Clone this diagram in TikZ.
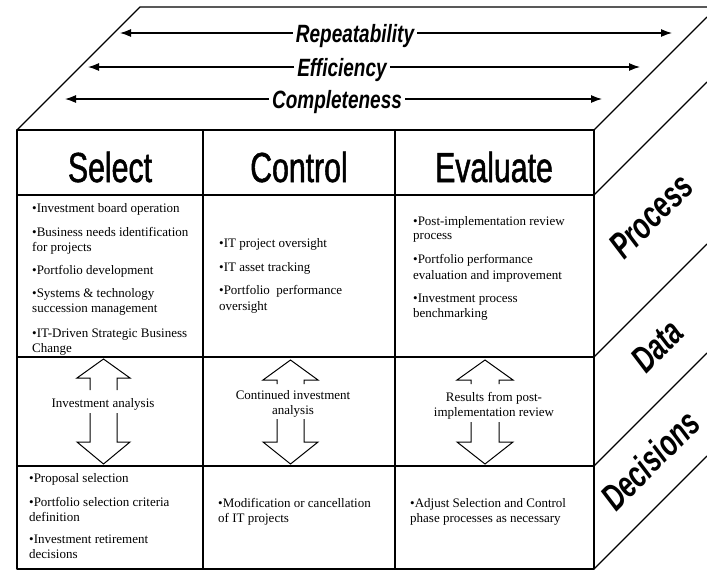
\documentclass[tikz,border=0pt]{standalone}
\usepackage{fontspec}
\setmainfont{Liberation Serif}
\newfontfamily\headfont[FakeStretch=0.72, FakeBold=1.2]{Liberation Sans}
\newfontfamily\topfont[FakeStretch=0.76]{Liberation Sans Bold Italic}
\newfontfamily\sidefont[FakeStretch=0.70]{Liberation Sans Bold Italic}
\usetikzlibrary{arrows.meta}
\begin{document}
\begin{tikzpicture}[x=1pt,y=-1pt,
  edge/.style={line width=1.3pt, line cap=round, line join=round},
  body/.style={inner sep=0pt, anchor=base west, font=\fontsize{13}{15}\selectfont},
  bodyc/.style={inner sep=0pt, anchor=base, font=\fontsize{13}{15}\selectfont},
  head/.style={inner sep=0pt, anchor=base, font=\headfont\fontsize{42}{42}\selectfont},
  toplab/.style={inner sep=3pt, anchor=base, fill=white, font=\topfont\fontsize{25}{25}\selectfont},
  toparrow/.style={line width=1.2pt, -{Latex[length=11pt,width=8pt]}},
  sidelab/.style={inner sep=0pt, rotate=45, font=\sidefont\fontsize{37}{37}\selectfont},
  blockarrow/.style={line width=1pt, line join=miter}
]
\useasboundingbox (0,0) rectangle (707,571);

% ---------- top face ----------
\draw[edge] (17,130) -- (140,7) -- (707,7);
\draw[edge] (594,130) -- (707,17);

\node[toplab] (rep) at (355,42) {Repeatability};
\coordinate (repL) at (120,33); \coordinate (repR) at (672,33);
\draw[toparrow] (rep.west |- repL) -- (repL);
\draw[toparrow] (rep.east |- repR) -- (repR);

\node[toplab] (eff) at (342,76) {Efficiency};
\coordinate (effL) at (88,67); \coordinate (effR) at (640,67);
\draw[toparrow] (eff.west |- effL) -- (effL);
\draw[toparrow] (eff.east |- effR) -- (effR);

\node[toplab] (com) at (337,108) {Completeness};
\coordinate (comL) at (65,99); \coordinate (comR) at (602,99);
\draw[toparrow] (com.west |- comL) -- (comL);
\draw[toparrow] (com.east |- comR) -- (comR);

% ---------- right face ----------
\draw[edge] (594,195) -- (707,82);
\draw[edge] (594,357) -- (707,244);
\draw[edge] (594,466) -- (707,353);
\draw[edge] (594,569) -- (707,456);
\node[sidelab] (process) at (651,216) {Process};
\node[sidelab] (data) at (657,346) {Data};
\node[sidelab] (decisions) at (650,460) {Decisions};

% ---------- front face grid ----------
\draw[edge] (17,130) rectangle (594,569);
\draw[edge] (17,195) -- (594,195);
\draw[edge] (17,357) -- (594,357);
\draw[edge] (17,466) -- (594,466);
\draw[edge] (203,130) -- (203,569);
\draw[edge] (395,130) -- (395,569);

% ---------- headers ----------
\node[head] (hsel) at (110,182) {Select};
\node[head] (hcon) at (299,182) {Control};
\node[head] (heva) at (494,182) {Evaluate};

% ---------- process row ----------
\node[body] (s1) at (32,212) {•Investment board operation};
\node[body] (s2) at (32,236) {•Business needs identification};
\node[body] (s2b) at (32,251) {for projects};
\node[body] (s3) at (32,274) {•Portfolio development};
\node[body] (s4) at (32,297) {•Systems \& technology};
\node[body] (s4b) at (32,312) {succession management};
\node[body] (s5) at (32,337) {•IT-Driven Strategic Business};
\node[body] (s5b) at (32,352) {Change};

\node[body] (c1) at (219,247) {•IT project oversight};
\node[body] (c2) at (219,271) {•IT asset tracking};
\node[body] (c3) at (219,294) {•Portfolio\ \ performance};
\node[body] (c3b) at (219,310) {oversight};

\node[body] (e1) at (413,225) {•Post-implementation review};
\node[body] (e1b) at (413,239) {process};
\node[body] (e2) at (413,263) {•Portfolio performance};
\node[body] (e2b) at (413,279) {evaluation and improvement};
\node[body] (e3) at (413,302) {•Investment process};
\node[body] (e3b) at (413,317) {benchmarking};

% ---------- data row ----------
\node[bodyc] (dsel) at (103,407) {Investment analysis};
\node[bodyc] (dcon) at (293,399) {Continued investment};
\node[bodyc] (dconb) at (293,414) {analysis};
\node[bodyc] (deva) at (494,401) {Results from post-};
\node[bodyc] (devab) at (494,416) {implementation review};

% block arrows (Select)
\draw[blockarrow] (90,390) -- (90,378) -- (77,378) -- (103.5,359) -- (130,378) -- (117,378) -- (117,390);
\draw[blockarrow] (90,413) -- (90,442) -- (77,442) -- (103.5,464) -- (130,442) -- (117,442) -- (117,413);
% block arrows (Control)
\draw[blockarrow] (277,384) -- (277,380) -- (263,380) -- (290.5,360) -- (318,380) -- (304,380) -- (304,384);
\draw[blockarrow] (277,419) -- (277,442) -- (263,442) -- (290.5,464) -- (318,442) -- (304,442) -- (304,419);
% block arrows (Evaluate)
\draw[blockarrow] (471,384) -- (471,380) -- (457,380) -- (485,360) -- (513,380) -- (499,380) -- (499,384);
\draw[blockarrow] (471,422) -- (471,442) -- (457,442) -- (485,464) -- (513,442) -- (499,442) -- (499,422);

% ---------- decisions row ----------
\node[body] (ds1) at (29,482) {•Proposal selection};
\node[body] (ds2) at (29,506) {•Portfolio selection criteria};
\node[body] (ds2b) at (29,521) {definition};
\node[body] (ds3) at (29,543) {•Investment retirement};
\node[body] (ds3b) at (29,558) {decisions};

\node[body] (dc1) at (218,507) {•Modification or cancellation};
\node[body] (dc1b) at (218,522) {of IT projects};

\node[body] (de1) at (410,507) {•Adjust Selection and Control};
\node[body] (de1b) at (410,522) {phase processes as necessary};
\end{tikzpicture}
\end{document}
